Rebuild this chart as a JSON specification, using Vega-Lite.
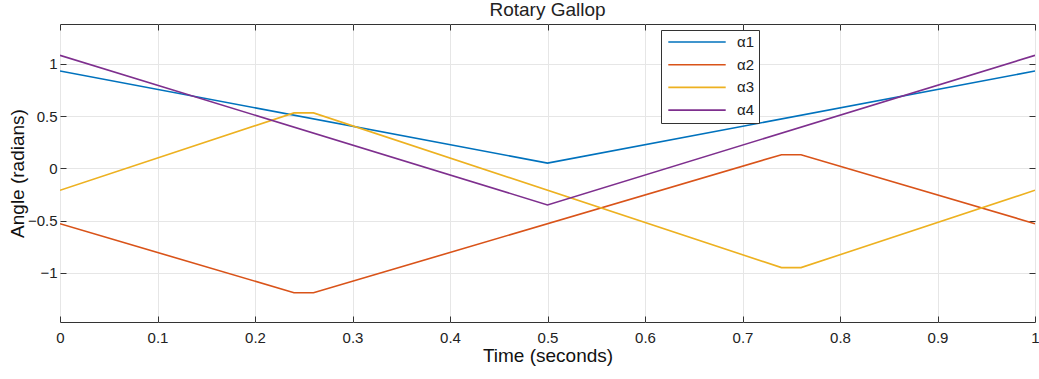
{
  "$schema": "https://vega.github.io/schema/vega-lite/v6.json",
  "autosize": "none",
  "width": 975,
  "height": 298,
  "padding": {"left": 60, "top": 24, "right": 4, "bottom": 57},
  "background": "white",
  "title": {"text": "Rotary Gallop", "fontSize": 19, "font": "Liberation Sans", "fontWeight": "normal", "color": "#222222", "offset": 4},
  "config": {
    "view": {"stroke": "#333333", "strokeWidth": 1},
    "font": "Liberation Sans",
    "axis": {"gridColor": "#e6e6e6", "gridWidth": 1, "domain": false, "tickColor": "#333333", "labelColor": "#222222", "titleColor": "#111111", "labelFont": "Liberation Sans", "titleFont": "Liberation Sans", "titleFontWeight": "normal"}
  },
  "data": {"values": [
    {"series": "α1", "t": 0, "v": 0.93},
    {"series": "α1", "t": 0.5, "v": 0.05},
    {"series": "α1", "t": 1, "v": 0.93},
    {"series": "α2", "t": 0, "v": -0.53},
    {"series": "α2", "t": 0.24, "v": -1.19},
    {"series": "α2", "t": 0.26, "v": -1.19},
    {"series": "α2", "t": 0.74, "v": 0.13},
    {"series": "α2", "t": 0.76, "v": 0.13},
    {"series": "α2", "t": 1, "v": -0.53},
    {"series": "α3", "t": 0, "v": -0.21},
    {"series": "α3", "t": 0.24, "v": 0.53},
    {"series": "α3", "t": 0.26, "v": 0.53},
    {"series": "α3", "t": 0.74, "v": -0.95},
    {"series": "α3", "t": 0.76, "v": -0.95},
    {"series": "α3", "t": 1, "v": -0.21},
    {"series": "α4", "t": 0, "v": 1.08},
    {"series": "α4", "t": 0.5, "v": -0.35},
    {"series": "α4", "t": 1, "v": 1.08}
  ]},
  "layer": [
    {
      "mark": {"type": "line", "strokeWidth": 1.6, "clip": true},
      "encoding": {
        "x": {"field": "t", "type": "quantitative", "scale": {"domain": [0, 1], "nice": false, "zero": false},
          "axis": {"title": "Time (seconds)", "values": [0, 0.1, 0.2, 0.3, 0.4, 0.5, 0.6, 0.7, 0.8, 0.9, 1], "format": "~g", "labelFontSize": 15, "titleFontSize": 19, "tickSize": -6, "labelPadding": 14, "titlePadding": 1, "labelFlush": false}},
        "y": {"field": "v", "type": "quantitative", "scale": {"domain": [-1.47, 1.38], "nice": false, "zero": false},
          "axis": {"title": "Angle (radians)", "values": [-1, -0.5, 0, 0.5, 1], "format": "~g", "labelFontSize": 15, "titleFontSize": 19, "tickSize": -6, "labelPadding": 9, "titlePadding": 0}},
        "color": {"field": "series", "type": "nominal",
          "scale": {"domain": ["α1", "α2", "α3", "α4"], "range": ["#0072BD", "#D95319", "#EDB120", "#7E2F8E"]},
          "legend": {"title": null, "orient": "none", "legendX": 601, "legendY": 6, "fillColor": "white", "strokeColor": "#333333", "padding": 4, "symbolType": "M-4.1,0H4.1", "symbolSize": 196, "symbolStrokeWidth": 1.6, "symbolOffset": 24, "labelOffset": 32, "labelFontSize": 15, "labelColor": "#222222", "rowPadding": 6.7}}
      }
    },
    {
      "mark": {"type": "line", "opacity": 0},
      "encoding": {
        "x": {"field": "t", "type": "quantitative", "axis": {"orient": "top", "title": null, "labels": false, "grid": false, "values": [0, 0.1, 0.2, 0.3, 0.4, 0.5, 0.6, 0.7, 0.8, 0.9, 1], "tickSize": -6}},
        "y": {"field": "v", "type": "quantitative", "axis": {"orient": "right", "title": null, "labels": false, "grid": false, "values": [-1, -0.5, 0, 0.5, 1], "tickSize": -6}},
        "detail": {"field": "series"}
      }
    }
  ],
  "resolve": {"axis": {"x": "independent", "y": "independent"}}
}
